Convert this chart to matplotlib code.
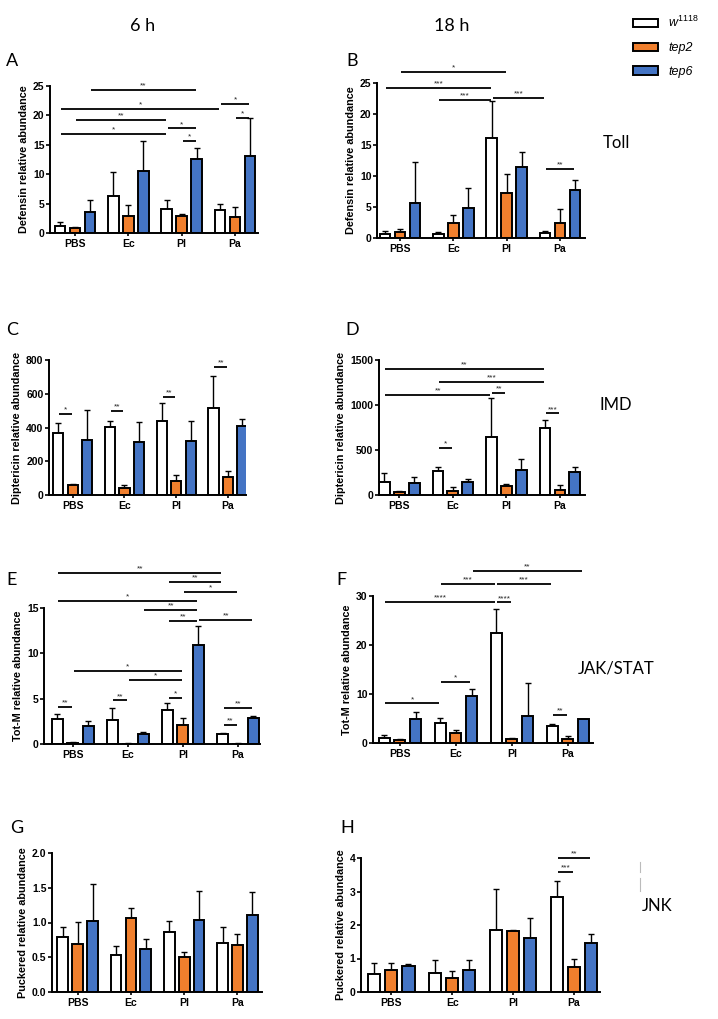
import numpy as np
import matplotlib.pyplot as plt
from matplotlib.patches import Patch
from matplotlib.lines import Line2D

plt.rcParams['font.family'] = ['Liberation Sans', 'DejaVu Sans']
plt.rcParams['mathtext.fontset'] = 'custom'
plt.rcParams['mathtext.it'] = 'Liberation Sans:italic'
plt.rcParams['mathtext.rm'] = 'Liberation Sans'

W, H = 718, 1019

groups = ['PBS', 'Ec', 'Pl', 'Pa']
strains = ['$\\mathit{w^{1118}}$', 'tep2', 'tep6']
colors = ['white', '#F07F2D', '#4474C4']

# Defensin, 6 h (A) / 18 h (B)
defensin_6h = [[1.2, 6.3, 4.0, 3.9], [0.8, 2.9, 2.9, 2.8], [3.5, 10.5, 12.6, 13.1]]
defensin_6h_err = [[0.6, 4.1, 1.6, 1.1], [0.2, 1.8, 0.3, 1.7], [2.1, 5.1, 1.8, 6.4]]
defensin_18h = [[0.6, 0.7, 16.2, 0.8], [1.0, 2.4, 7.3, 2.4], [5.7, 4.8, 11.5, 7.8]]
defensin_18h_err = [[0.5, 0.3, 5.9, 0.4], [0.4, 1.3, 3.0, 2.3], [6.5, 3.2, 2.3, 1.6]]

# Diptericin (C / D)
diptericin_6h = [[365, 405, 440, 515], [58, 40, 85, 105], [325, 315, 322, 410]]
diptericin_6h_err = [[64, 35, 105, 193], [5, 18, 35, 35], [180, 115, 115, 40]]
diptericin_18h = [[140, 270, 640, 745], [35, 45, 95, 60], [130, 145, 280, 260]]
diptericin_18h_err = [[100, 40, 435, 90], [15, 40, 25, 50], [75, 30, 115, 55]]

# Tot-M (E / F)
totm_6h = [[2.8, 2.7, 3.7, 1.05], [0.15, 0.05, 2.1, 0.05], [2.0, 1.15, 10.9, 2.9]]
totm_6h_err = [[0.5, 1.3, 0.8, 0.2], [0.1, 0.05, 0.8, 0.07], [0.5, 0.2, 2.1, 0.15]]
totm_18h = [[1.1, 4.0, 22.4, 3.5], [0.6, 2.0, 0.9, 0.9], [5.0, 9.5, 5.6, 4.8]]
totm_18h_err = [[0.5, 1.2, 5.0, 0.4], [0.3, 0.7, 0.2, 0.5], [1.3, 1.5, 6.7, 0.2]]

# Puckered (G / H)
puckered_6h = [[0.79, 0.53, 0.86, 0.71], [0.69, 1.07, 0.50, 0.68], [1.02, 0.62, 1.03, 1.11]]
puckered_6h_err = [[0.15, 0.13, 0.16, 0.22], [0.32, 0.14, 0.08, 0.16], [0.53, 0.14, 0.42, 0.33]]
puckered_18h = [[0.55, 0.58, 1.85, 2.85], [0.66, 0.43, 1.82, 0.74], [0.79, 0.66, 1.60, 1.47]]
puckered_18h_err = [[0.33, 0.38, 1.22, 0.45], [0.22, 0.20, 0.03, 0.24], [0.05, 0.30, 0.60, 0.27]]

# significance brackets: (group a, strain a, group b, strain b, height, label)
sig_A = [(0, 2, 2, 2, 24.4, '**'), (0, 0, 3, 0, 21.05, '*'), (3, 0, 3, 2, 22.0, '*'),
         (0, 1, 2, 0, 19.2, '**'), (3, 1, 3, 2, 19.6, '*'), (2, 0, 2, 2, 17.8, '*'),
         (0, 0, 2, 0, 16.9, '*'), (2, 1, 2, 2, 15.7, '*')]
sig_B = [(0, 1, 2, 1, 26.8, '*'), (0, 0, 2, 0, 24.2, '***'), (1, 0, 2, 0, 22.3, '***'),
         (2, 0, 3, 0, 22.6, '***'), (3, 0, 3, 2, 11.2, '**')]
sig_C = [(0, 0, 0, 1, 480, '*'), (1, 0, 1, 1, 500, '**'), (2, 0, 2, 1, 579, '**'),
         (3, 0, 3, 1, 757, '**')]
sig_D = [(0, 0, 3, 0, 1400, '**'), (1, 0, 3, 0, 1256, '***'), (0, 0, 2, 0, 1111, '**'),
         (2, 0, 2, 1, 1133, '**'), (3, 0, 3, 1, 907, '***'), (1, 0, 1, 1, 519, '*')]
sig_E = [(0, 0, 3, 0, 18.9, '**'), (2, 0, 3, 0, 17.85, '**'), (2, 1, 3, 1, 16.8, '*'),
         (0, 0, 2, 2, 15.8, '*'), (1, 2, 2, 2, 14.75, '**'), (2, 0, 2, 2, 13.6, '**'),
         (2, 2, 3, 2, 13.7, '**'), (0, 1, 2, 1, 8.1, '*'), (1, 1, 2, 1, 7.07, '*'),
         (2, 0, 2, 1, 5.05, '*'), (0, 0, 0, 1, 4.13, '**'), (1, 0, 1, 1, 4.8, '**'),
         (3, 0, 3, 2, 4.0, '**'), (3, 0, 3, 1, 2.1, '**')]
sig_F = [(1, 2, 3, 2, 35.1, '**'), (1, 0, 2, 0, 32.4, '***'), (2, 0, 3, 0, 32.4, '***'),
         (0, 0, 2, 0, 28.8, '****'), (2, 0, 2, 1, 28.7, '****'), (0, 0, 1, 0, 8.1, '*'),
         (1, 0, 1, 2, 12.5, '*'), (3, 0, 3, 1, 5.75, '**')]
sig_G = []
sig_H = [(3, 0, 3, 2, 4.0, '**'), (3, 0, 3, 1, 3.58, '***')]

fig = plt.figure(figsize=(W / 100, H / 100), dpi=100)

def rect(x0, y0, x1, y1):
    return [x0 / W, 1 - y1 / H, (x1 - x0) / W, (y1 - y0) / H]

OFF = 0.28
BW = 0.2

def panel(box, vals, errs, sig, ylim, yticks, ylabel, xlim, fmt=None):
    ax = fig.add_axes(rect(*box))
    x = np.arange(len(groups))
    for i in range(3):
        xs = x + (i - 1) * OFF
        ax.bar(xs, vals[i], BW, color=colors[i], edgecolor='black', linewidth=1.4, zorder=2)
        ax.errorbar(xs, vals[i], yerr=[np.zeros(4), errs[i]], fmt='none', ecolor='black',
                    elinewidth=1.0, capsize=2.3, capthick=1.0, zorder=1)
    for ga, sa, gb, sb, y, lab in sig:
        x1 = ga + (sa - 1) * OFF + 0.02
        x2 = gb + (sb - 1) * OFF - 0.02
        ax.plot([x1, x2], [y, y], color='black', lw=1.3, clip_on=False, solid_capstyle='butt')
        ax.annotate(lab, ((x1 + x2) / 2, y), xytext=(0, 0.3), textcoords='offset points',
                    ha='center', va='bottom', fontsize=6, color='#222222', annotation_clip=False)
    ax.set_xlim(*xlim)
    ax.set_ylim(*ylim)
    ax.set_yticks(yticks)
    if fmt:
        ax.set_yticklabels([fmt.format(t) for t in yticks])
    ax.set_xticks(x)
    ax.set_xticklabels(groups, fontweight='bold', fontsize=7.5)
    for t in ax.get_yticklabels():
        t.set_fontweight('bold')
        t.set_fontsize(7.5)
    ax.set_ylabel(ylabel, fontweight='bold', fontsize=7.8, labelpad=3)
    for s in ['top', 'right']:
        ax.spines[s].set_visible(False)
    for s in ['left', 'bottom']:
        ax.spines[s].set_linewidth(1.4)
    ax.tick_params(axis='y', length=3, width=1.2, pad=1)
    ax.tick_params(axis='x', length=2.5, width=1.2, pad=2)
    return ax

panel((50, 86, 258, 233), defensin_6h, defensin_6h_err, sig_A, (0, 25), [0, 5, 10, 15, 20, 25],
      'Defensin relative abundance', (-0.47, 3.43))
panel((377, 83, 585, 238), defensin_18h, defensin_18h_err, sig_B, (0, 25), [0, 5, 10, 15, 20, 25],
      'Defensin relative abundance', (-0.43, 3.47))
panel((49, 360, 246, 495), diptericin_6h, diptericin_6h_err, sig_C, (0, 800), [0, 200, 400, 600, 800],
      'Diptericin relative abundance', (-0.46, 3.35))
panel((379, 360, 585, 495), diptericin_18h, diptericin_18h_err, sig_D, (0, 1500), [0, 500, 1000, 1500],
      'Diptericin relative abundance', (-0.38, 3.47))
panel((44, 608, 260, 744), totm_6h, totm_6h_err, sig_E, (0, 15), [0, 5, 10, 15],
      'Tot-M relative abundance', (-0.52, 3.4))
panel((373, 596, 593, 743), totm_18h, totm_18h_err, sig_F, (0, 30), [0, 10, 20, 30],
      'Tot-M relative abundance', (-0.48, 3.45))
panel((52, 853, 262, 992), puckered_6h, puckered_6h_err, sig_G, (0, 2), [0, 0.5, 1.0, 1.5, 2.0],
      'Puckered relative abundance', (-0.48, 3.46), fmt='{:.1f}')
panel((361, 858, 600, 992), puckered_18h, puckered_18h_err, sig_H, (0, 4), [0, 1, 2, 3, 4],
      'Puckered relative abundance', (-0.5, 3.43))

# column titles, panel letters, pathway labels
big = ['Lato', 'DejaVu Sans']
fig.text(143 / W, 1 - 26 / H, '6 h', fontsize=13, ha='center', va='center', family=big)
fig.text(452 / W, 1 - 26 / H, '18 h', fontsize=13, ha='center', va='center', family=big)
for lab, px, py in [('A', 12, 61), ('B', 352, 61), ('C', 12, 330), ('D', 352, 330),
                    ('E', 12, 580), ('F', 341, 580), ('G', 17, 828), ('H', 347, 828)]:
    fig.text(px / W, 1 - py / H, lab, fontsize=13, ha='center', va='center', family=big)
for lab, px, py in [('Toll', 616, 143), ('IMD', 616, 405), ('JAK/STAT', 616, 668), ('JNK', 657, 906)]:
    fig.text(px / W, 1 - py / H, lab, fontsize=12, ha='center', va='center', family=big)
fig.add_artist(Line2D([640 / W, 640 / W], [1 - 862 / H, 1 - 872 / H], color='#bbbbbb', lw=0.8))
fig.add_artist(Line2D([640 / W, 640 / W], [1 - 878 / H, 1 - 891 / H], color='#bbbbbb', lw=0.8))

handles = [Patch(facecolor=c, edgecolor='black', linewidth=1.4) for c in colors]
fig.legend(handles, strains, loc='upper left', bbox_to_anchor=(622 / W, 1 - 4 / H),
           frameon=False, fontsize=9, handlelength=2.0, handleheight=0.7,
           labelspacing=0.95, handletextpad=0.8, prop={'style': 'italic', 'size': 9})

fig.savefig('out.png', dpi=100)
